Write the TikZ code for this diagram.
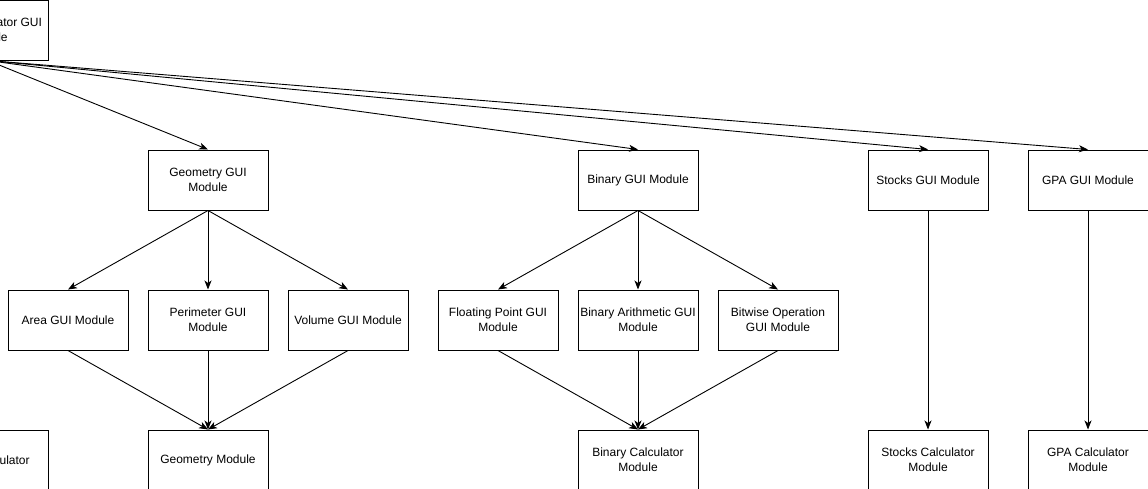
\documentclass[tikz,border=0pt]{standalone}
\usepackage{fontspec}
\setmainfont{Liberation Sans}
\usetikzlibrary{arrows.meta}
\begin{document}
\begin{tikzpicture}[x=1pt,y=-1pt,
  box/.style={draw, line width=1pt, minimum width=120pt, minimum height=60pt, inner sep=0pt, align=center, font=\fontsize{12}{15}\selectfont},
  conn/.style={line width=0.9pt, -{Stealth[length=9pt,width=7pt,inset=2.5pt]}}]
\useasboundingbox (0,0) rectangle (1148,488);
\clip (0,0) rectangle (1148,488);
% top
\node[box] (main) at (-12,30) {Main Calculator GUI\\Module};
% row 1
\node[box] (geogui) at (208,180) {Geometry GUI\\Module};
\node[box] (bingui) at (638,180) {Binary GUI Module};
\node[box] (stockgui) at (928,180) {Stocks GUI Module};
\node[box] (gpagui) at (1088,180) {GPA GUI Module};
% row 2
\node[box] (area) at (68,320) {Area GUI Module};
\node[box] (perim) at (208,320) {Perimeter GUI\\Module};
\node[box] (vol) at (348,320) {Volume GUI Module};
\node[box] (float) at (498,320) {Floating Point GUI\\Module};
\node[box] (arith) at (638,320) {Binary Arithmetic GUI\\Module};
\node[box] (bitwise) at (778,320) {Bitwise Operation\\GUI Module};
% row 3
\node[box] (maincalc) at (-12,460) {Main Calculator};
\node[box] (geomod) at (208,460) {Geometry Module};
\node[box] (bincalc) at (638,460) {Binary Calculator\\Module};
\node[box] (stockcalc) at (928,460) {Stocks Calculator\\Module};
\node[box] (gpacalc) at (1088,460) {GPA Calculator\\Module};
% connectors
\draw[conn] (main.south) -- (geogui.north);
\draw[conn] (main.south) -- (bingui.north);
\draw[conn] (main.south) -- (stockgui.north);
\draw[conn] (main.south) -- (gpagui.north);
\draw[conn] (geogui.south) -- (area.north);
\draw[conn] (geogui.south) -- (perim.north);
\draw[conn] (geogui.south) -- (vol.north);
\draw[conn] (area.south) -- (geomod.north);
\draw[conn] (perim.south) -- (geomod.north);
\draw[conn] (vol.south) -- (geomod.north);
\draw[conn] (bingui.south) -- (float.north);
\draw[conn] (bingui.south) -- (arith.north);
\draw[conn] (bingui.south) -- (bitwise.north);
\draw[conn] (float.south) -- (bincalc.north);
\draw[conn] (arith.south) -- (bincalc.north);
\draw[conn] (bitwise.south) -- (bincalc.north);
\draw[conn] (stockgui.south) -- (stockcalc.north);
\draw[conn] (gpagui.south) -- (gpacalc.north);
\end{tikzpicture}
\end{document}
